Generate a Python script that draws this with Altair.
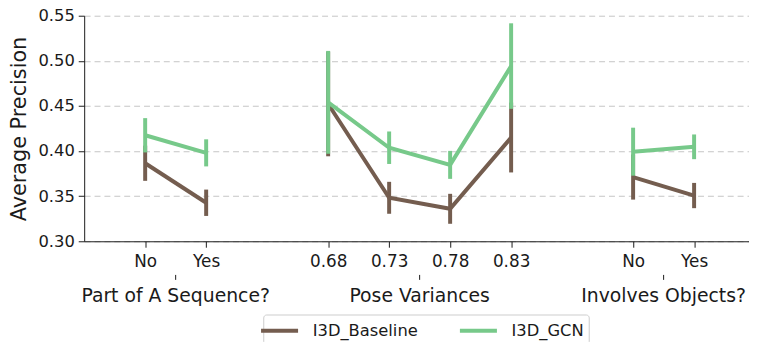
import altair as alt
import pandas as pd

positions = [0, 1, 3, 4, 5, 6, 8, 9]
tick_labels = ["No", "Yes", "0.68", "0.73", "0.78", "0.83", "No", "Yes"]
groups = [0, 0, 1, 1, 1, 1, 2, 2]
baseline_mean = [0.3865, 0.3427, 0.4522, 0.3482, 0.3360, 0.4150, 0.3712, 0.3507]
baseline_err = [0.0195, 0.0146, 0.0580, 0.0177, 0.0166, 0.0387, 0.0250, 0.0140]
gcn_mean = [0.4175, 0.3980, 0.4540, 0.4037, 0.3847, 0.4942, 0.3993, 0.4047]
gcn_err = [0.0190, 0.0150, 0.0570, 0.0180, 0.0155, 0.0474, 0.0266, 0.0137]

group_names = ["Part of A Sequence?", "Pose Variances", "Involves Objects?"]
group_centers = [0.5, 4.5, 8.5]

series_names = ["I3D_Baseline", "I3D_GCN"]
series_colors = ["#745d4f", "#77c98a"]

rows = []
for name, means, errs in [("I3D_Baseline", baseline_mean, baseline_err),
                          ("I3D_GCN", gcn_mean, gcn_err)]:
    for p, g, m, e in zip(positions, groups, means, errs):
        rows.append({"series": name, "pos": p, "grp": g, "mean": m,
                     "lo": m - e, "hi": m + e})
df = pd.DataFrame(rows)
gdf = pd.DataFrame({"name": group_names, "pos": group_centers})

W, H = 672, 228
FONT = "DejaVu Sans"
INK = "#1a1a1a"

label_expr = ""
for p, t in zip(positions, tick_labels):
    label_expr += f"datum.value == {p} ? '{t}' : "
label_expr += "''"

xscale = alt.Scale(domain=[-1, 9.9], nice=False, zero=False)
yscale = alt.Scale(domain=[0.30, 0.55], nice=False, zero=False)
color = alt.Color(
    "series:N",
    scale=alt.Scale(domain=series_names, range=series_colors),
    legend=alt.Legend(
        title=None, orient="none", legendX=181, legendY=302,
        direction="horizontal", symbolType="M-2,0H2", symbolStrokeWidth=4,
        symbolSize=350, labelFontSize=16.5, labelFont=FONT, labelColor=INK,
        labelOffset=22, columnPadding=33, padding=5,
        strokeColor="#cccccc", fillColor="white",
        cornerRadius=3, labelLimit=300,
    ),
)

xaxis = alt.Axis(values=positions, labelExpr=label_expr, title=None, grid=False,
                 labelFontSize=17, labelFont=FONT, labelColor=INK,
                 tickSize=6, tickColor=INK, domainColor=INK,
                 labelPadding=6, labelFlush=False)
yaxis = alt.Axis(values=[0.30, 0.35, 0.40, 0.45, 0.50, 0.55], format=".2f",
                 title="Average Precision", titleFontSize=21, titleFont=FONT,
                 titleFontWeight="normal", titleColor=INK, titlePadding=9,
                 labelFontSize=16.5, labelFont=FONT, labelColor=INK,
                 tickSize=6, tickColor=INK, domainColor=INK, labelPadding=4,
                 grid=True, gridDash=[6, 4], gridColor="#c4c4c4", gridWidth=1)

base = alt.Chart(df)

layers = []
for name in series_names:
    sub = base.transform_filter(alt.datum.series == name)
    rules = sub.mark_rule(strokeWidth=4).encode(
        x=alt.X("pos:Q", scale=xscale, axis=xaxis),
        y=alt.Y("lo:Q", scale=yscale, axis=yaxis),
        y2="hi:Q",
        color=color,
    )
    line = sub.mark_line(strokeWidth=4).encode(
        x=alt.X("pos:Q", scale=xscale, axis=xaxis),
        y=alt.Y("mean:Q", scale=yscale, axis=yaxis),
        detail="grp:N",
        color=color,
    )
    layers += [rules, line]

gticks = alt.Chart(gdf).mark_rule(color=INK, strokeWidth=1).encode(
    x=alt.X("pos:Q", scale=xscale, axis=xaxis),
    y=alt.value(H + 34), y2=alt.value(H + 39),
)
gtext = alt.Chart(gdf).mark_text(fontSize=19, font=FONT, color=INK,
                                 baseline="middle").encode(
    x=alt.X("pos:Q", scale=xscale, axis=xaxis),
    y=alt.value(H + 55),
    text="name:N",
)

chart = alt.layer(*layers, gticks, gtext).properties(
    width=W, height=H,
    autosize=alt.AutoSizeParams(type="none"),
    padding={"left": 77, "top": 6, "right": 0, "bottom": 100},
).configure_view(stroke=None)

chart.save("out.html", embed_options={"renderer": "svg", "actions": False})
